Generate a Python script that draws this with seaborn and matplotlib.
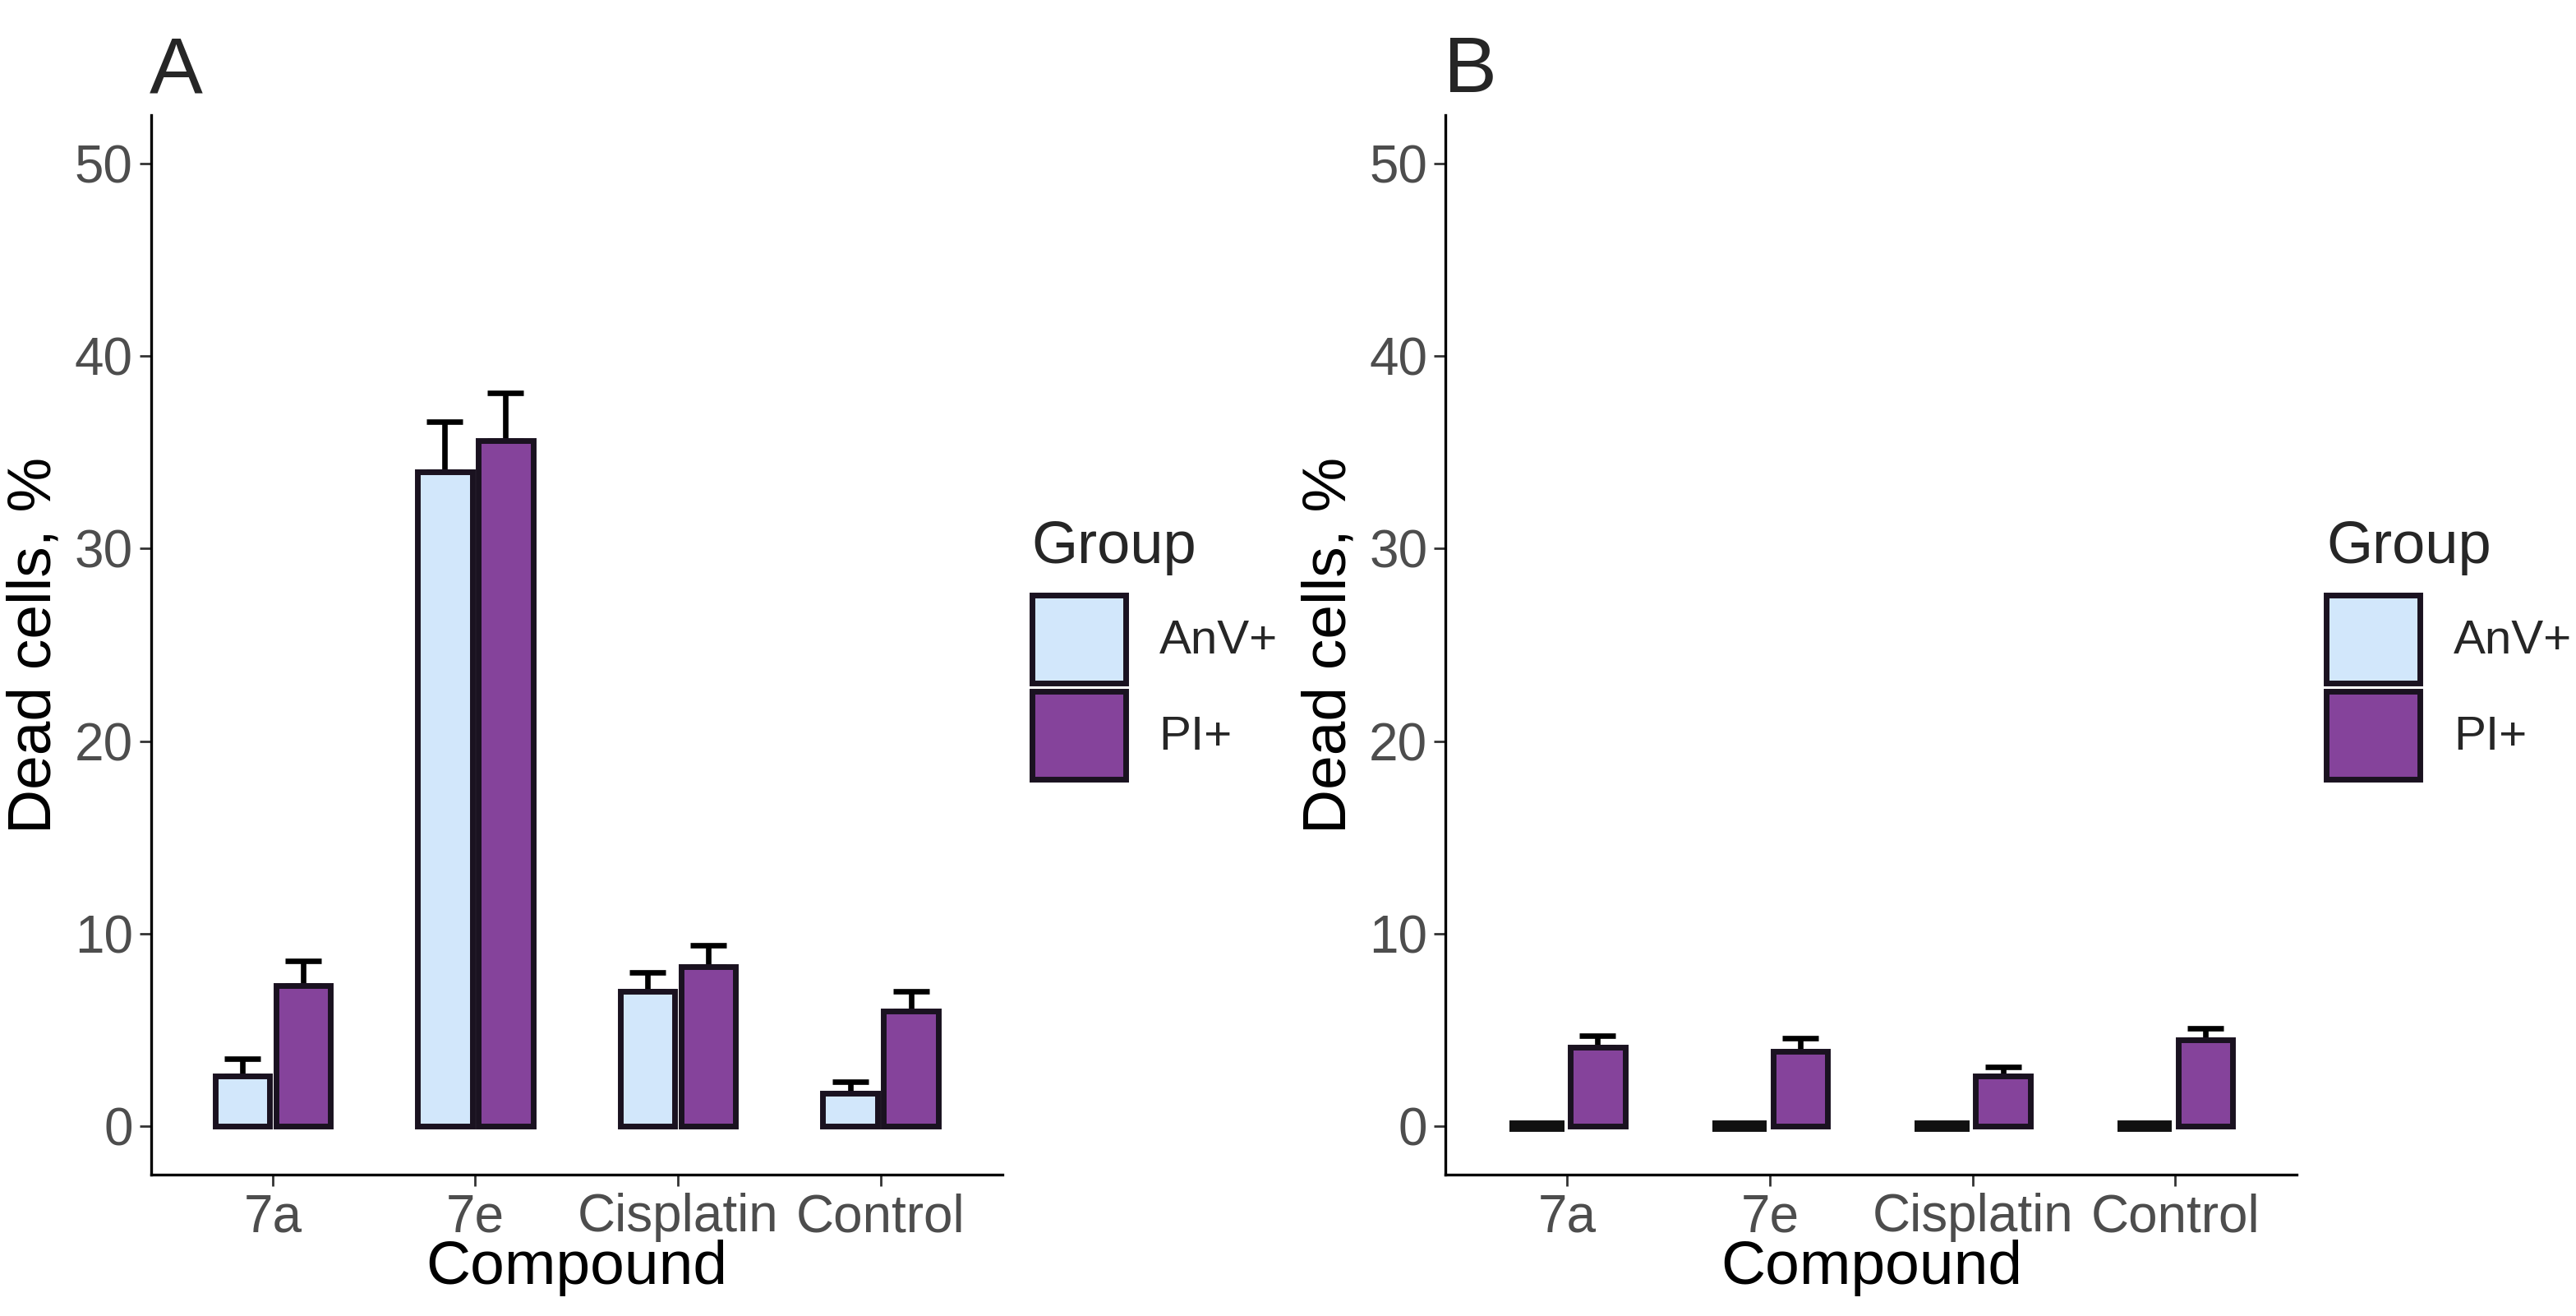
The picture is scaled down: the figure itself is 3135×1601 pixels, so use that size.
import pandas as pd
import seaborn as sns
import matplotlib.pyplot as plt

compounds = ['7a', '7e', 'Cisplatin', 'Control']
groups = ['AnV+', 'PI+']

# panel A: mean and upper error (se)
anv_a = [2.6, 34.0, 7.0, 1.7]
anv_a_err = [0.9, 2.6, 1.0, 0.6]
pi_a = [7.3, 35.6, 8.3, 6.0]
pi_a_err = [1.3, 2.5, 1.1, 1.0]

# panel B
anv_b = [0.0, 0.0, 0.0, 0.0]
anv_b_err = [0.0, 0.0, 0.0, 0.0]
pi_b = [4.1, 3.9, 2.6, 4.5]
pi_b_err = [0.6, 0.7, 0.5, 0.6]

colors = {'AnV+': '#D2E7FB', 'PI+': '#85439B'}
edge = '#1A1220'

sns.set_theme(style='white')
plt.rcParams['font.family'] = ['Liberation Sans', 'DejaVu Sans']


def make_df(anv, anv_err, pi, pi_err):
    rows = []
    for c, v, e in zip(compounds, anv, anv_err):
        rows.append({'Compound': c, 'Group': 'AnV+', 'value': v, 'err': e})
    for c, v, e in zip(compounds, pi, pi_err):
        rows.append({'Compound': c, 'Group': 'PI+', 'value': v, 'err': e})
    return pd.DataFrame(rows)


df_a = make_df(anv_a, anv_a_err, pi_a, pi_a_err)
df_b = make_df(anv_b, anv_b_err, pi_b, pi_b_err)

fig = plt.figure(figsize=(15.675, 8.005), dpi=200)
ax_a = fig.add_axes([92 / 1568, 86 / 800, 518 / 1568, 644 / 800])
ax_b = fig.add_axes([880 / 1568, 86 / 800, 518 / 1568, 644 / 800])


def draw(ax, df, title):
    sns.barplot(data=df, x='Compound', y='value', hue='Group', order=compounds,
                hue_order=groups, palette=colors, saturation=1, width=0.6, gap=0.1,
                edgecolor=edge, linewidth=2.5, errorbar=None, ax=ax, zorder=3)
    # upper error bars at the bar centres
    for i, g in enumerate(groups):
        sub = df[df['Group'] == g].set_index('Compound').loc[compounds]
        bars = ax.containers[i]
        for bar, (_, r) in zip(bars, sub.iterrows()):
            if r['value'] == 0:
                bar.set_linewidth(5)
                bar.set_edgecolor('#111111')
            if r['err'] <= 0:
                continue
            xc = bar.get_x() + bar.get_width() / 2
            ax.errorbar([xc], [r['value'] + r['err'] / 2], yerr=[[r['err'] / 2], [r['err'] / 2]],
                        fmt='none', ecolor='black', elinewidth=2.4, capsize=8,
                        capthick=2.4, zorder=2)
    ax.set_xlim(-0.6, 3.6)
    ax.set_ylim(-2.5, 52.5)
    ax.set_yticks([0, 10, 20, 30, 40, 50])
    ax.set_xlabel('Compound', fontsize=27, color='black', labelpad=-1)
    ax.set_ylabel('Dead cells, %', fontsize=27, color='black', labelpad=5)
    ax.tick_params(axis='both', labelsize=23, labelcolor='#4D4D4D', color='#333333',
                   length=5, width=1, direction='out', left=True, bottom=True, pad=3)
    for s in ['top', 'right']:
        ax.spines[s].set_visible(False)
    for s in ['left', 'bottom']:
        ax.spines[s].set_color('black')
        ax.spines[s].set_linewidth(1.2)
    ax.set_title(title, loc='left', fontsize=35, pad=10, x=-0.002)
    handles, labels = ax.get_legend_handles_labels()
    leg = ax.legend(handles, labels, title='Group', loc='center left',
                    bbox_to_anchor=(1.035, 0.49), frameon=False, fontsize=21,
                    title_fontsize=26, handlelength=1.95, handleheight=2.45,
                    labelspacing=0.17, handletextpad=0.7, alignment='left',
                    borderaxespad=0, borderpad=0)
    leg.get_title().set_position((0, 14))


draw(ax_a, df_a, 'A')
draw(ax_b, df_b, 'B')

fig.savefig('out.png', dpi=200, facecolor='white')
